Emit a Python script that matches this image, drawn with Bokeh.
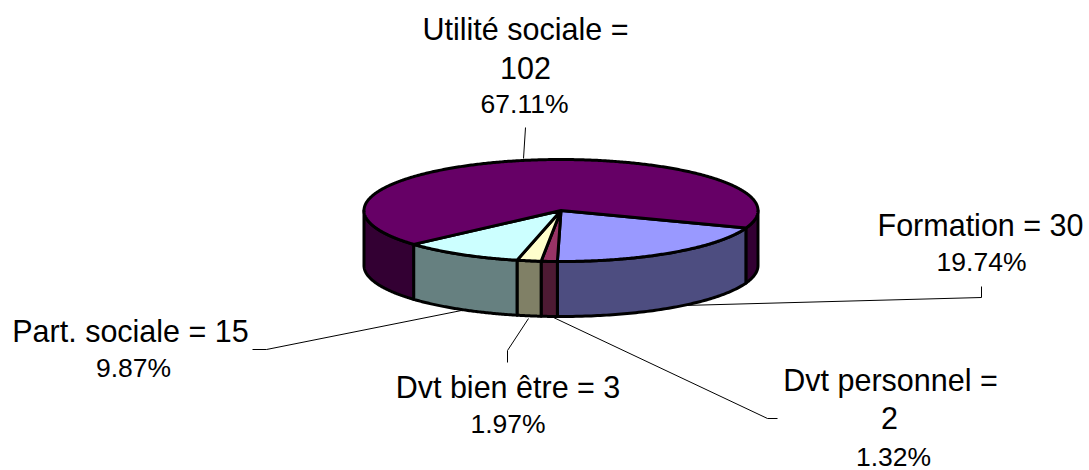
import numpy as np
from bokeh.plotting import figure
from bokeh.models import Range1d
from bokeh.core.properties import value
from bokeh.embed import file_html
from bokeh.resources import INLINE

categories = ["Formation", "Dvt personnel", "Dvt bien être", "Part. sociale", "Utilité sociale"]
values = [30, 2, 3, 15, 102]
percents = ["19.74%", "1.32%", "1.97%", "9.87%", "67.11%"]
top_colors = ["#9999FF", "#993366", "#FFFFCC", "#CCFFFF", "#660066"]
side_colors = ["#4D4D80", "#4D1A33", "#808066", "#668080", "#330033"]

# label layout: lines of text, centre x, middle y, font size
label_lines = [
    [("Formation = 30", 980, 224, 30.5), ("19.74%", 981, 261, 26.5)],
    [("Dvt personnel =", 890, 379, 30.5), ("2", 889, 417, 30.5), ("1.32%", 893, 456, 26.5)],
    [("Dvt bien être = 3", 507.5, 386, 30.5), ("1.97%", 507.5, 423, 26.5)],
    [("Part. sociale = 15", 130, 330, 30.5), ("9.87%", 133, 367, 26.5)],
    [("Utilité sociale =", 525, 28, 30.5), ("102", 525, 67, 30.5), ("67.11%", 524, 103, 26.5)],
]
leaders = [
    ([683, 981, 981], [305, 297, 286]),
    ([553, 767, 777], [317, 418, 418]),
    ([528, 507, 507], [318, 350, 362]),
    ([461, 266, 252], [310, 349, 349]),
    ([523, 525], [158, 127]),
]

CX, CY, RX, RY, DEPTH = 560.5, 210, 197, 51, 55
START = 20

p = figure(width=1089, height=470, output_backend="svg", toolbar_location=None,
           x_range=Range1d(0, 1089), y_range=Range1d(470, 0),
           min_border=0, outline_line_color=None, background_fill_color="white")
p.axis.visible = False
p.grid.visible = False


def rim(a, dy=0.0):
    r = np.radians(a)
    return CX + RX * np.cos(r), CY + RY * np.sin(r) + dy


total = sum(values)
angles = [START]
for v in values:
    angles.append(angles[-1] + 360 * v / total)

# leaders behind the pie
p.multi_line(xs=[l[0] for l in leaders], ys=[l[1] for l in leaders], line_color="black", line_width=1)

# side walls: only the part of each slice in the front half (0..180 deg)
for i in range(len(values)):
    for lo, hi in ((0, 180), (360, 540)):
        a0, a1 = max(angles[i], lo), min(angles[i + 1], hi)
        if a1 > a0:
            t = np.linspace(a0, a1, 80)
            xt, yt = rim(t)
            xb, yb = rim(t[::-1], DEPTH)
            p.patch(np.concatenate([xt, xb]), np.concatenate([yt, yb]), fill_color=side_colors[i],
                    line_color="black", line_width=3, line_join="round")

# top faces
for i in range(len(values)):
    t = np.linspace(angles[i], angles[i + 1], max(4, int(angles[i + 1] - angles[i]) * 2))
    xt, yt = rim(t)
    p.patch(np.concatenate([[CX], xt]), np.concatenate([[CY], yt]), fill_color=top_colors[i],
            line_color="black", line_width=3, line_join="round")

for group in label_lines:
    for s, x, y, size in group:
        p.text(x=[x], y=[y], text=[s], text_font=value("Liberation Sans"), text_font_size=f"{size}px",
               text_align="center", text_baseline="middle", text_color="black")

open("out.html", "w").write(file_html(p, INLINE))
